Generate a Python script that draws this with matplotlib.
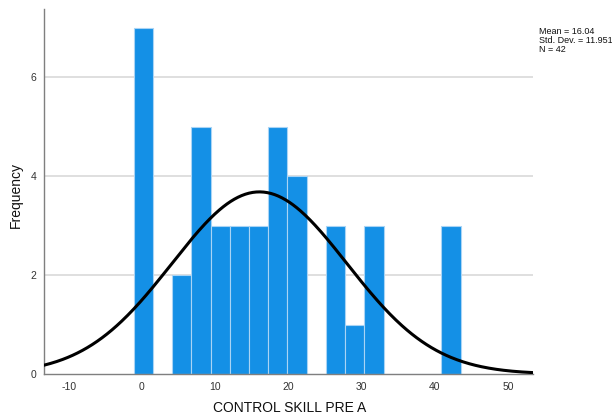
import numpy as np
import matplotlib
matplotlib.use("Agg")
import matplotlib.pyplot as plt

plt.rcParams['font.family'] = ['Liberation Sans', 'DejaVu Sans']
plt.rcParams['axes.unicode_minus'] = False

# Histogram data (bin edges start and width, counts per bin)
bin_start = -1.125
bin_width = 2.625
counts = [7, 0, 2, 5, 3, 3, 3, 5, 4, 0, 3, 1, 3, 0, 0, 0, 3]
mean = 16.04
std = 11.951
n = 42
x_ticks = [-10, 0, 10, 20, 30, 40, 50]
y_ticks = [0, 2, 4, 6]

edges = bin_start + bin_width * np.arange(len(counts) + 1)

fig = plt.figure(figsize=(6.12, 4.19), dpi=100)
ax = fig.add_axes([0.0727, 0.1074, 0.871 - 0.0727, 0.9778 - 0.1074])

ax.set_xlim(-13.3, 53.4)
ax.set_ylim(0, 7.37)

for yt in y_ticks[1:]:
    ax.axhline(yt, color='#d9d9d9', lw=1.2, zorder=0)

ax.bar(edges[:-1], counts, width=bin_width, align='edge',
       color='#1490e6', edgecolor='#a9d4f5', linewidth=0.8, zorder=2)

xs = np.linspace(-13.3, 53.4, 400)
pdf = n * bin_width * np.exp(-0.5 * ((xs - mean) / std) ** 2) / (std * np.sqrt(2 * np.pi))
ax.plot(xs, pdf, color='black', lw=2.2, zorder=3)

for s in ['top', 'right']:
    ax.spines[s].set_visible(False)
for s in ['left', 'bottom']:
    ax.spines[s].set_color('#7f7f7f')
    ax.spines[s].set_linewidth(1.0)

ax.set_xticks(x_ticks)
ax.set_yticks(y_ticks)
ax.tick_params(length=0, labelsize=7.5, colors='#333333', pad=6)

fig.text(290 / 612, 1 - 408 / 419, 'CONTROL SKILL PRE A', fontsize=10,
         color='#111111', ha='center', va='center')
fig.text(16 / 612, 1 - 195 / 419, 'Frequency', fontsize=10,
         color='#111111', ha='center', va='center', rotation=90)

fig.text(539 / 612, 1 - 27 / 419,
         f"Mean = {mean:.2f}\nStd. Dev. = {std}\nN = {n}",
         fontsize=6.5, va='top', ha='left', linespacing=1.0, color='#111111')

fig.savefig('out.png', dpi=100)
